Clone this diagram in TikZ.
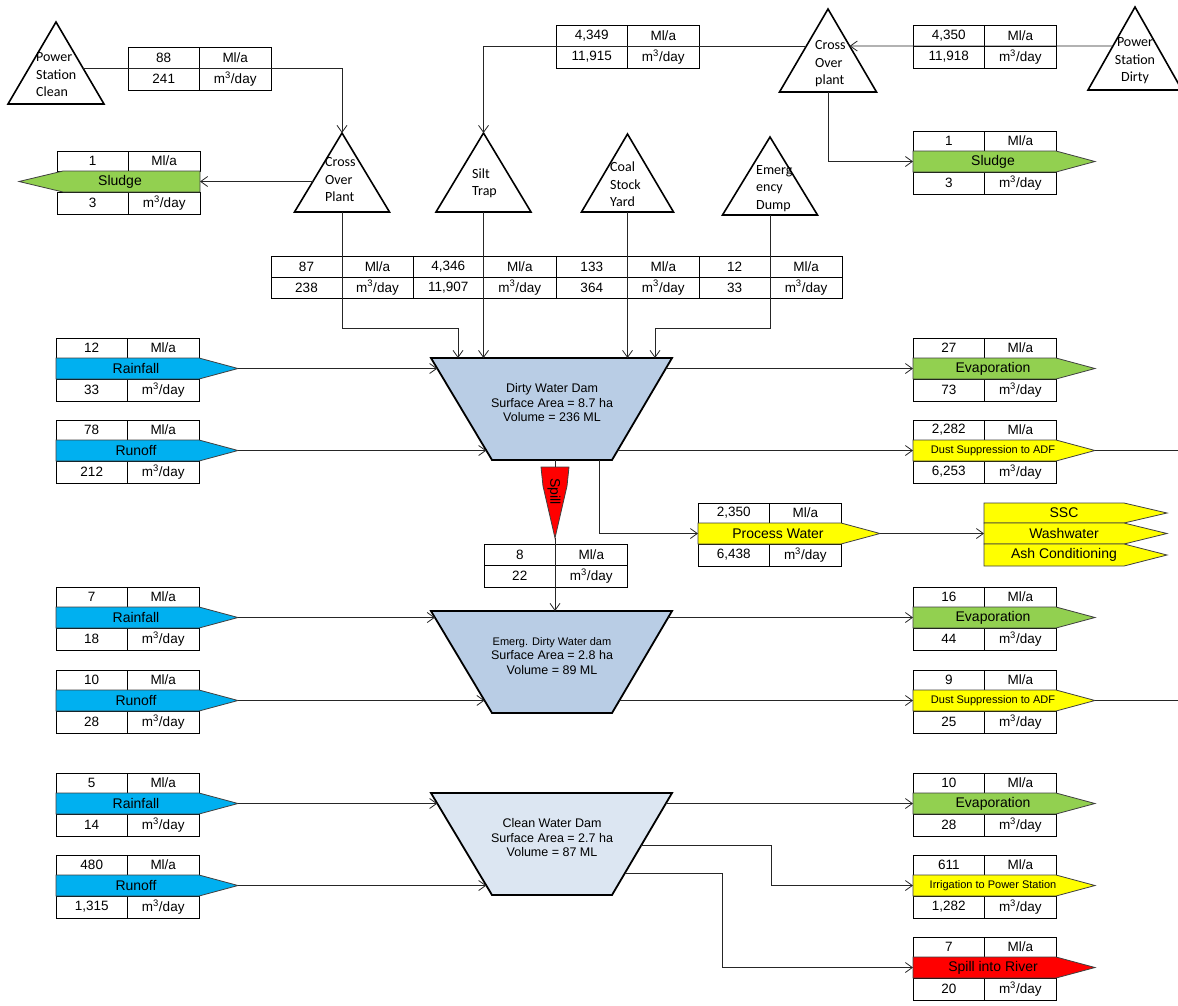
\documentclass[tikz,border=0pt]{standalone}
\usepackage{fontspec}
\setmainfont{Liberation Sans}
\newfontfamily\trifont{Carlito}
\usetikzlibrary{arrows.meta,calc}

\definecolor{cblue}{HTML}{00B0F0}
\definecolor{cgreen}{HTML}{92D050}
\definecolor{cyellow}{HTML}{FFFF00}
\definecolor{cred}{HTML}{FF0000}
\definecolor{damfill}{HTML}{B9CDE5}
\definecolor{cleanfill}{HTML}{DCE6F2}

\tikzset{
 cellline/.style={draw=black, line width=0.9pt},
 celltext/.style={font=\fontsize{13.5}{15}\selectfont, inner sep=0pt},
 bannerline/.style={draw=black!75, line width=0.8pt},
 bannertext/.style={font=\fontsize{14}{16}\selectfont, inner sep=0pt},
 smallbanner/.style={font=\fontsize{11}{13}\selectfont, inner sep=0pt},
 flow/.style={draw=black!85, line width=0.8pt, -{Straight Barb[length=7pt,width=10pt]}},
 plainflow/.style={draw=black!85, line width=0.8pt},
 tri/.style={draw=black, line width=1.6pt},
 trilabel/.style={font=\trifont\fontsize{14}{17.5}\selectfont, align=left, inner sep=0pt, anchor=west},
 dam/.style={draw=black, line width=1.8pt},
 damtext/.style={font=\fontsize{12.5}{14.5}\selectfont, align=center, inner sep=0pt},
}

% cell: name, x1, y1, x2, y2, text
\newcommand{\tcell}[6]{%
 \draw[cellline] (#2,#3) rectangle (#4,#5);
 \node[celltext] (#1) at ({(#2+#4)/2},{(#3+#5)/2}) {#6};}

% right-pointing banner widget: name, x, top, v1, v2, label, fill, label style
\newcommand{\rbanner}[8]{%
 \tcell{#1v}{#2}{#3}{#2+71.5}{#3+20}{#4}
 \tcell{#1u}{#2+71.5}{#3}{#2+143}{#3+20}{Ml/a}
 \tcell{#1w}{#2}{#3+41}{#2+71.5}{#3+63}{#5}
 \tcell{#1m}{#2+71.5}{#3+41}{#2+143}{#3+63}{m\textsuperscript{3}/day}
 \filldraw[bannerline, fill=#7] (#2,#3+20) -- (#2+143,#3+20) -- (#2+182,#3+30.5) -- (#2+143,#3+41) -- (#2,#3+41) -- cycle;
 \node[#8] (#1) at (#2+80,#3+30.5) {#6};
 \coordinate (#1in) at (#2,#3+30.5);
 \coordinate (#1tip) at (#2+182,#3+30.5);}

% plain 2x2 table: name, x, top, v1, v2
\newcommand{\ptable}[5]{%
 \tcell{#1v}{#2}{#3}{#2+71.5}{#3+21}{#4}
 \tcell{#1u}{#2+71.5}{#3}{#2+143}{#3+21}{Ml/a}
 \tcell{#1w}{#2}{#3+21}{#2+71.5}{#3+43}{#5}
 \tcell{#1m}{#2+71.5}{#3+21}{#2+143}{#3+43}{m\textsuperscript{3}/day}}

% triangle: name, apex x, apex y, base y, half width
\newcommand{\trinode}[5]{%
 \coordinate (#1top) at (#2,#3);
 \coordinate (#1bl) at (#2-#5,#4);
 \coordinate (#1br) at (#2+#5,#4);
 \coordinate (#1base) at (#2,#4);
 \draw[tri] (#1top) -- (#1bl) -- (#1br) -- cycle;}

% dam: name, top y, fill, text
\newcommand{\damshape}[4]{%
 \coordinate (#1tl) at (431,#2);
 \coordinate (#1tr) at (672,#2);
 \coordinate (#1bl) at (492,#2+102);
 \coordinate (#1br) at (612,#2+102);
 \filldraw[dam, fill=#3] (#1tl) -- (#1tr) -- (#1br) -- (#1bl) -- cycle;
 \node[damtext] (#1) at (552,#2+45) {#4};}

% stacked yellow banner: name, x, top, height, label
\newcommand{\sbanner}[5]{%
 \filldraw[bannerline, fill=cyellow] (#2,#3) -- (#2+140,#3) -- (#2+183,#3+#4/2) -- (#2+140,#3+#4) -- (#2,#3+#4) -- cycle;
 \node[bannertext] (#1) at (#2+80,#3+#4/2) {#5};
 \coordinate (#1in) at (#2,#3+#4/2);}

\begin{document}
\begin{tikzpicture}[x=1pt,y=-1pt]
\fill[white] (0,0) rectangle (1178,1005);
\useasboundingbox (0,0) rectangle (1178,1005);
\coordinate (rightedge) at (1178,0);
\coordinate (elbowy) at (0,328);
\coordinate (bendA) at (771,0);
\coordinate (bendB) at (722,0);

% ---------- triangles ----------
\trinode{psc}{56}{22}{104}{48}
\trinode{cop1}{342}{133}{212}{47.5}
\trinode{silt}{483.5}{133}{212}{47.5}
\trinode{coal}{627.5}{134}{212}{46}
\trinode{emd}{770}{137}{215}{47.5}
\trinode{cop2}{828}{9}{92}{48.5}
\trinode{psd}{1135}{7}{90}{47}

\node[trilabel] (psct) at (36,75) {Power\\Station\\Clean};
\node[trilabel] (cop1t) at (325,180) {Cross\\Over\\Plant};
\node[trilabel] (siltt) at (472,183.5) {Silt\\Trap};
\node[trilabel] (coalt) at (610,184.5) {Coal\\Stock\\Yard};
\node[trilabel] (emdt) at (756,188.5) {Emerg\\ency\\Dump};
\node[trilabel] (cop2t) at (815,64) {Cross\\Over\\plant};
\node[trilabel, anchor=center, align=center] (psdt) at (1135,61) {Power\\Station\\Dirty};

% ---------- top tables ----------
\ptable{tA}{128}{47}{88}{241}
\ptable{tB}{556}{25}{4,349}{11,915}
\ptable{tC}{913}{25}{4,350}{11,918}

% left sludge
\tcell{slv}{57}{151}{128.5}{171}{1}
\tcell{slu}{128.5}{151}{200}{171}{Ml/a}
\tcell{slw}{57}{192}{128.5}{214}{3}
\tcell{slm}{128.5}{192}{200}{214}{m\textsuperscript{3}/day}
\filldraw[bannerline, fill=cgreen] (200,171) -- (63,171) -- (19,181.5) -- (63,192) -- (200,192) -- cycle;
\node[bannertext] (sludgeL) at (120,181.5) {Sludge};
\coordinate (sludgeLin) at (200,181.5);

% right sludge
\rbanner{sludgeR}{913}{131}{1}{3}{Sludge}{cgreen}{bannertext}

% ---------- flow row table ----------
\tcell{f1}{271}{256}{342}{277}{87}
\tcell{f2}{342}{256}{413}{277}{Ml/a}
\tcell{f3}{413}{256}{483.5}{277}{4,346}
\tcell{f4}{483.5}{256}{556}{277}{Ml/a}
\tcell{f5}{556}{256}{627.5}{277}{133}
\tcell{f6}{627.5}{256}{699}{277}{Ml/a}
\tcell{f7}{699}{256}{770}{277}{12}
\tcell{f8}{770}{256}{842}{277}{Ml/a}
\tcell{g1}{271}{277}{342}{298}{238}
\tcell{g2}{342}{277}{413}{298}{m\textsuperscript{3}/day}
\tcell{g3}{413}{277}{483.5}{298}{11,907}
\tcell{g4}{483.5}{277}{556}{298}{m\textsuperscript{3}/day}
\tcell{g5}{556}{277}{627.5}{298}{364}
\tcell{g6}{627.5}{277}{699}{298}{m\textsuperscript{3}/day}
\tcell{g7}{699}{277}{770}{298}{33}
\tcell{g8}{770}{277}{842}{298}{m\textsuperscript{3}/day}

% ---------- dams ----------
\damshape{d1}{358}{damfill}{Dirty Water Dam\\Surface Area = 8.7 ha\\Volume = 236 ML}
\damshape{d2}{611}{damfill}{{\fontsize{11}{14.5}\selectfont Emerg. Dirty Water dam}\\Surface Area = 2.8 ha\\Volume = 89 ML}
\damshape{d3}{793}{cleanfill}{Clean Water Dam\\Surface Area = 2.7 ha\\Volume = 87 ML}

% ---------- left inputs ----------
\rbanner{rainA}{56}{338}{12}{33}{Rainfall}{cblue}{bannertext}
\rbanner{runA}{56}{420}{78}{212}{Runoff}{cblue}{bannertext}
\rbanner{rainB}{56}{587}{7}{18}{Rainfall}{cblue}{bannertext}
\rbanner{runB}{56}{670}{10}{28}{Runoff}{cblue}{bannertext}
\rbanner{rainC}{56}{773}{5}{14}{Rainfall}{cblue}{bannertext}
\rbanner{runC}{56}{855}{480}{1,315}{Runoff}{cblue}{bannertext}

% ---------- right outputs ----------
\rbanner{evapA}{913}{338}{27}{73}{Evaporation}{cgreen}{bannertext}
\rbanner{dustA}{913}{420}{2,282}{6,253}{Dust Suppression to ADF}{cyellow}{smallbanner}
\rbanner{evapB}{913}{587}{16}{44}{Evaporation}{cgreen}{bannertext}
\rbanner{dustB}{913}{670}{9}{25}{Dust Suppression to ADF}{cyellow}{smallbanner}
\rbanner{evapC}{913}{773}{10}{28}{Evaporation}{cgreen}{bannertext}
\rbanner{irr}{913}{855}{611}{1,282}{Irrigation to Power Station}{cyellow}{smallbanner}
\rbanner{river}{913}{937}{7}{20}{Spill into River}{cred}{bannertext}

\rbanner{pw}{698}{503}{2,350}{6,438}{Process Water}{cyellow}{bannertext}
\sbanner{ssc}{984}{503}{20}{SSC}
\sbanner{wash}{984}{523}{21}{Washwater}
\sbanner{ash}{984}{544}{22}{Ash Conditioning}

% spill
\ptable{tS}{484}{544}{8}{22}
\filldraw[bannerline, fill=cred] (541,467) -- (569,467) -- (567,486) -- (555,538) -- (543,486) -- cycle;
\coordinate (spilltop) at (555,467);
\coordinate (spilltip) at (555,538);
\node[bannertext, rotate=-90] (spill) at (554,491.5) {Spill};

% ---------- connectors ----------
\coordinate (pscout) at ($(psctop)!0.561!(pscbr)$);
\draw[flow] (pscout) -| (cop1top);
\coordinate (psdout) at ($(psdtop)!0.47!(psdbl)$);
\coordinate (cop2r) at ($(cop2top)!0.446!(cop2br)$);
\coordinate (cop2l) at ($(cop2top)!0.446!(cop2bl)$);
\draw[flow] (psdout) -- (cop2r);
\draw[flow] (cop2l) -| (silttop);
\draw[flow] (cop2base) |- (sludgeRin);
\coordinate (cop1l) at ($(cop1top)!0.615!(cop1bl)$);
\draw[flow] (cop1l) -- (sludgeLin);

\coordinate (d1a) at (458,358);
\coordinate (d1b) at (483.5,358);
\coordinate (d1c) at (627.5,358);
\coordinate (d1d) at (655,358);
\draw[flow] (cop1base) |- (d1a |- elbowy) -- (d1a);
\draw[flow] (siltbase) -- (d1b);
\draw[flow] (coalbase) -- (d1c);
\draw[flow] (emdbase) |- (d1d |- elbowy) -- (d1d);

\draw[flow] (rainAtip) -- ($(d1tl)!0.103!(d1bl)$);
\draw[flow] (runAtip) -- ($(d1tl)!0.907!(d1bl)$);
\draw[flow] ($(d1tr)!0.103!(d1br)$) -- (evapAin);
\draw[flow] ($(d1tr)!0.907!(d1br)$) -- (dustAin);
\draw[plainflow] (dustAtip) -- (dustAtip -| rightedge);

\coordinate (d1sp) at (555,460);
\draw[plainflow] (d1sp) -- (spilltop);
\coordinate (d2in) at (555,611);
\draw[flow] (spilltip) -- (d2in);
\coordinate (d1pw) at (599,460);
\draw[flow] (d1pw) |- (pwin);
\draw[flow] (pwtip) -- (washin);

\draw[flow] (rainBtip) -- ($(d2tl)!0.064!(d2bl)$);
\draw[flow] (runBtip) -- ($(d2tl)!0.877!(d2bl)$);
\draw[flow] ($(d2tr)!0.064!(d2br)$) -- (evapBin);
\draw[flow] ($(d2tr)!0.877!(d2br)$) -- (dustBin);
\draw[plainflow] (dustBtip) -- (dustBtip -| rightedge);

\draw[flow] (rainCtip) -- ($(d3tl)!0.103!(d3bl)$);
\draw[flow] (runCtip) -- ($(d3tl)!0.907!(d3bl)$);
\draw[flow] ($(d3tr)!0.103!(d3br)$) -- (evapCin);
\draw[flow] ($(d3tr)!0.51!(d3br)$) -| (bendA |- irrin) -- (irrin);
\draw[flow] ($(d3tr)!0.784!(d3br)$) -| (bendB |- riverin) -- (riverin);
\end{tikzpicture}
\end{document}
